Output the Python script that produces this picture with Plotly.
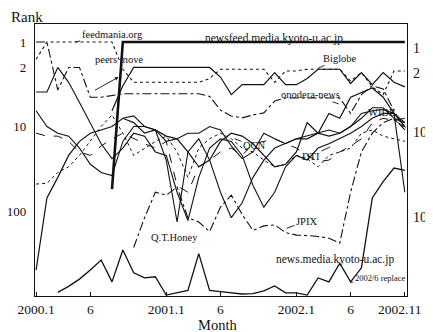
import math
import plotly.graph_objects as go

# Month index: 0 = 2000.1 ... 34 = 2002.11
months = list(range(35))
tick_vals = [0, 5, 12, 17, 24, 29, 34]
tick_text = ["2000.1", "6", "2001.1", "6", "2002.1", "6", "2002.11\u00a0\u00a0\u00a0"]
rank_ticks = [1, 2, 10, 100]
N = None

newsfeed = [N]*7 + [55] + [1]*27
feedmania = [1.6, 1.0, 1.0, 1.0, 1.0, 1.0, 1.0, 1.0, 2.1, 3.0, 3.0, 3.0, 3.0, 3.0, 3.0, 3.0, 2.7,
             2.1, 2.1, 2.1, 2.1, 2.1, 3.0, 2.2, 2.2, 2.1, 2.1, 2.1, 2.1, 2.9, 2.3, 3.4, 4.2, 2.2, 2.2]
biglobe = [N]*7 + [6.5, 3.3, 2.0, 2.0, 2.0, 2.0, 2.0, 2.0, 2.0, 2.0, 2.6, 4.2, 3.2, 3.2, 3.2,
                   2.3, 3.2, 3.2, 2.7, 2.1, 2.1, 2.1, 3.1, 2.3, 3.2, 2.3, 3.0, 3.4]
onodera = [1.0, 1.0, 3.7, 2.0, 2.0, 4.5, 4.5, 4.3, 4.1, 4.1, 4.1, 4.1, 4.1, 4.1, 4.1, 4.1, 4.4,
           6.4, 7.5, 7.9, 7.3, 6.9, 5.0, 4.6, 4.6, 4.6, 4.6, 4.6, 4.6, 7.0, 4.2, 3.3, 3.6, 6.5, 11]
early_solid = [3.9, 3.9, 2.0, 3.0, 5.2, 9, 16, 24, 18, 12, 13, 20, 22, 60, 130, 40, 18, 14, 15,
               22, 50, 90, 60, 30, 22, 25, 18, 16, 14, 12, 10, 8, 7, 7, 60]
qthoney = [N]*8 + [8, 7.5, 10, 11, 25, 135, 20, 14, 25, 60, 120, 80, 40, 25, 18, 16, 14, 14, 12,
                   13, 12, 10, 8, 6, 6, 8, 9]
jpix = [N]*9 + [270, 120, 60, 65, 52, 120, 135, 175, 90, 65, 110, 170, 150, 146, 180, 193, 195,
                200, 210, 240, 60, 20, 12, 9, 8, 11]
dti = [48, 47, 35, 30, 22, 15, 10, 7.3, 12, 22, 18, 15, 13, 20, 40, 18, 14, 12, 14, 18, 20, 25,
       30, 28, 22, 24, 30, 22, 20, 18, 12, 11, 13, 14, 15]
ocn = [6.5, 10, 12, 13, 18, 28, 35, 38, 15, 10, 10, 11, 15, 14, 12, 12, 10, 11, 17, 24, 20, 12,
       14, 16, 14, 13, 12, 11, 12, 10, 7, 6.5, 6.3, 7, 9]
dashed_mid = [12, 13, 13, 15, 20, 22, 17, 14, 12, 14, 16, 18, 15, 50, 60, 30, 25, 20, 18, 22, 16,
              15, 14, 16, 18, 22, 26, 25, 20, 17, 14, 9, 8, 8.5, 8]
wide = [500, 70, 40, 22, 15, 12, 11, 10, 8, 9, 12, 11, 13, 14, 20, 30, 25, 15, 12, 13, 16, 22,
        30, 28, 20, 9, 12, 7, 8, 4.5, 4.0, 3.5, 4.5, 7, 10]
news_media = [N, N, 920, 780, 640, 500, 380, 690, 290, 540, 620, 600, 990, 920, 870, 320, 870,
              900, 930, 960, 950, 880, 770, 930, 930, 990, 620, 690, 415, 690, 470, 70, 45, 31, 33]

INK = "#111111"
series = [
    (newsfeed, "solid", 2.6),
    (feedmania, "dot", 1.1),
    (biglobe, "solid", 1.2),
    (onodera, "dashdot", 1.1),
    (early_solid, "solid", 1.1),
    (qthoney, "solid", 1.1),
    (jpix, "dashdot", 1.1),
    (dti, "dot", 1.0),
    (ocn, "solid", 1.1),
    (dashed_mid, "dash", 1.0),
    (wide, "solid", 1.2),
    (news_media, "solid", 1.3),
]

fig = go.Figure()
for ys, dash, w in series:
    fig.add_trace(go.Scatter(x=months, y=ys, mode="lines", connectgaps=False,
                             line=dict(color=INK, width=w, dash=dash),
                             showlegend=False, hoverinfo="skip"))
# carrier for the right-hand rank axis
fig.add_trace(go.Scatter(x=[0], y=[1], yaxis="y2", mode="markers",
                         marker=dict(opacity=0), showlegend=False, hoverinfo="skip"))

FONT = "Liberation Serif"
L = math.log10


def ann(text, x, y, ax=0, ay=0, size=10.5, arrow=False, head=0):
    fig.add_annotation(text=text, x=x, y=L(y), xref="x", yref="y", ax=ax, ay=ay,
                       showarrow=arrow, arrowhead=head, arrowwidth=0.9, arrowcolor=INK,
                       arrowsize=0.8, font=dict(family=FONT, size=size, color=INK))


ann("feedmania.org", 3.6, 1.0, ax=37, ay=-8, arrow=True)
ann("newsfeed.media.kyoto-u.ac.jp", 15.1, 1.0, ax=74, ay=-4, size=11.5, arrow=True)
ann("Biglobe", 26.0, 2.05, ax=22, ay=-10, arrow=True)
ann("onodera-news", 27.9, 5.4, ax=-28, ay=-9, arrow=True)
ann("WIDE", 34.1, 10.3, ax=-24, ay=-15, arrow=True)
ann("peers move", 7.6, 1.6, ax=-14, ay=-5, size=10.5)
ann("", 7.6, 2.6, ax=-25, ay=14, arrow=True, head=2)
ann("OCN", 18.3, 14.0, ax=20, ay=7, arrow=True)
ann("DTI", 27.1, 17.5, ax=-19, ay=9, arrow=True)
ann("JPIX", 23.1, 160, ax=20, ay=-7, arrow=True)
ann("Q.T.Honey", 12.5, 115, ax=3, ay=21, arrow=True)
ann("news.media.kyoto-u.ac.jp", 27.6, 380, size=11.5)
ann("2002/6 replace", 29.0, 700, ax=29, ay=-4, size=8.5, arrow=True)

# the page adds an 8px body margin, so the figure is sized and offset to compensate
fig.add_annotation(text="Rank", xref="paper", yref="paper", x=-0.022, y=1.0, yshift=7,
                   xanchor="center", yanchor="middle", showarrow=False,
                   font=dict(family=FONT, size=15, color=INK))
fig.add_annotation(text="Month", xref="paper", yref="paper", x=0.49, y=0.0, yshift=-29,
                   xanchor="center", yanchor="middle", showarrow=False,
                   font=dict(family=FONT, size=14.5, color=INK))

fig.update_layout(
    width=425, height=324,
    margin=dict(l=27, r=26, t=16, b=36),
    paper_bgcolor="white", plot_bgcolor="white",
    font=dict(family=FONT, size=13.5, color=INK),
    xaxis=dict(range=[-0.1, 34.2], tickvals=tick_vals, ticktext=tick_text,
               ticks="inside", ticklen=4, tickcolor=INK, showgrid=False, zeroline=False,
               showline=True, linecolor=INK, linewidth=1.4, mirror=True,
               ticklabelstandoff=1, automargin=False,
               tickfont=dict(family=FONT, size=13.5, color=INK)),
    yaxis=dict(type="log", range=[3.006, -0.213], tickvals=rank_ticks,
               ticktext=[str(v) for v in rank_ticks], ticks="", showgrid=False,
               zeroline=False, showline=True, linecolor=INK, linewidth=1.4, mirror=True,
               ticklabelstandoff=5, automargin=False,
               tickfont=dict(family=FONT, size=13, color=INK)),
    yaxis2=dict(type="log", range=[2.935, -0.284], overlaying="y", side="right",
                tickvals=rank_ticks, ticktext=[str(v) for v in rank_ticks], ticks="",
                showgrid=False, zeroline=False, showline=False, ticklabelstandoff=5,
                automargin=False, tickfont=dict(family=FONT, size=14, color=INK)),
)

fig.write_html("out.html")
